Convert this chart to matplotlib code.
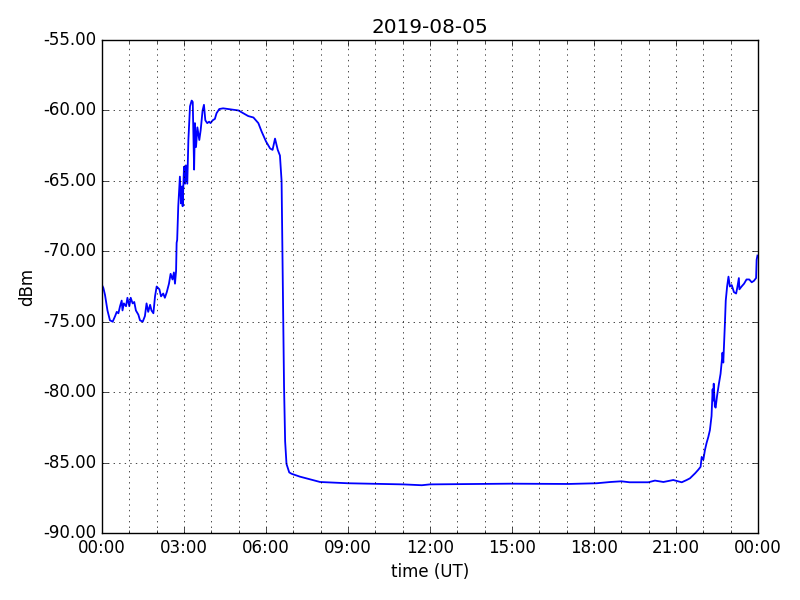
import matplotlib
matplotlib.use('Agg')
import matplotlib.pyplot as plt
from matplotlib.ticker import MultipleLocator, FormatStrFormatter, FuncFormatter

# signal level trace, hours since 00:00 UT
hours = [0.00, 0.05, 0.11, 0.20, 0.29, 0.39, 0.48, 0.54, 0.60, 0.66, 0.72, 0.75, 0.80,
         0.88, 0.93, 1.00, 1.05, 1.12, 1.18, 1.24, 1.33, 1.39, 1.49, 1.57, 1.63, 1.69,
         1.76, 1.81, 1.88, 1.94, 2.00, 2.10, 2.16, 2.24, 2.30, 2.37, 2.45, 2.51, 2.58,
         2.63, 2.67, 2.71, 2.73, 2.75, 2.79, 2.85, 2.89, 2.93, 2.95, 3.00, 3.04, 3.07,
         3.12, 3.16, 3.22, 3.28, 3.32, 3.37, 3.40, 3.44, 3.49, 3.56, 3.61, 3.68, 3.73,
         3.78, 3.85, 3.92, 3.97, 4.05, 4.13, 4.19, 4.29, 4.43, 4.62, 4.99, 5.17, 5.35,
         5.54, 5.72, 5.84, 6.00, 6.15, 6.24, 6.33, 6.43, 6.51, 6.57, 6.61, 6.66, 6.70,
         6.75, 6.85, 6.94, 7.24, 7.98, 9.00, 11.02, 11.70, 12.00, 14.93, 17.06, 18.10,
         18.60, 19.00, 19.30, 19.99, 20.23, 20.54, 20.90, 21.21, 21.39, 21.51, 21.70,
         21.82, 21.90, 21.94, 22.00, 22.06, 22.12, 22.18, 22.24, 22.30, 22.34, 22.36,
         22.38, 22.42, 22.45, 22.50, 22.57, 22.63, 22.68, 22.70, 22.73, 22.75, 22.79,
         22.82, 22.87, 22.92, 22.97, 23.04, 23.12, 23.20, 23.24, 23.30, 23.32, 23.40,
         23.49, 23.58, 23.68, 23.77, 23.85, 23.93, 23.95, 23.98]
dbm = [-72.4, -72.6, -73.1, -74.2, -74.9, -75.0, -74.6, -74.3, -74.4, -73.9, -73.5, -74.2, -73.7,
       -73.9, -73.3, -73.9, -73.3, -73.7, -73.6, -74.2, -74.5, -74.9, -75.0, -74.6, -73.7, -74.3,
       -73.8, -74.2, -74.4, -73.2, -72.5, -72.7, -73.2, -73.0, -73.3, -72.9, -72.3, -71.6, -72.0,
       -71.5, -72.3, -71.4, -69.4, -69.2, -66.8, -64.7, -66.6, -65.4, -66.8, -64.0, -65.2, -63.9,
       -65.2, -62.1, -59.7, -59.3, -59.4, -64.2, -60.9, -62.6, -61.2, -62.1, -61.4, -60.0, -59.6,
       -60.7, -60.9, -60.8, -60.9, -60.7, -60.6, -60.2, -59.9, -59.85, -59.9, -60.0, -60.2, -60.4,
       -60.5, -60.9, -61.5, -62.2, -62.7, -62.8, -62.0, -62.8, -63.2, -65.0, -71.3, -79.6, -83.5,
       -85.1, -85.7, -85.8, -86.0, -86.38, -86.47, -86.55, -86.61, -86.55, -86.50, -86.52, -86.47,
       -86.38, -86.33, -86.40, -86.40, -86.28, -86.38, -86.24, -86.40, -86.24, -86.12, -85.76,
       -85.5, -85.3, -84.6, -84.8, -84.1, -83.6, -83.2, -82.7, -81.7, -79.8, -80.6,
       -79.4, -81.0, -81.1, -80.3, -79.4, -78.7, -77.7, -77.2, -77.9, -77.0, -75.1,
       -73.5, -72.5, -71.8, -72.5, -72.4, -72.9, -73.0, -72.6, -71.9, -72.7, -72.5,
       -72.3, -72.0, -72.0, -72.2, -72.1, -71.9, -70.6, -70.3]

plt.style.use('classic')
fig = plt.figure(figsize=(8, 6), dpi=100, facecolor='white')
ax = fig.add_axes([0.1275, 0.1117, 0.82, 0.8216])

ax.plot(hours, dbm, color='b', lw=1.3)

ax.set_xlim(0, 24)
ax.set_ylim(-90, -55)
ax.xaxis.set_major_locator(MultipleLocator(3))
ax.xaxis.set_minor_locator(MultipleLocator(1))
ax.xaxis.set_major_formatter(FuncFormatter(lambda v, p: '%02d:00' % (int(round(v)) % 24)))
ax.yaxis.set_major_locator(MultipleLocator(5))
ax.yaxis.set_major_formatter(FormatStrFormatter('%.2f'))
ax.xaxis.grid(True, which='both')
ax.yaxis.grid(True, which='major')

ax.set_title('2019-08-05')
ax.set_xlabel('time (UT)')
ax.set_ylabel('dBm')

plt.savefig('out.png', dpi=100, facecolor='white')
print("Saved: out.png")
